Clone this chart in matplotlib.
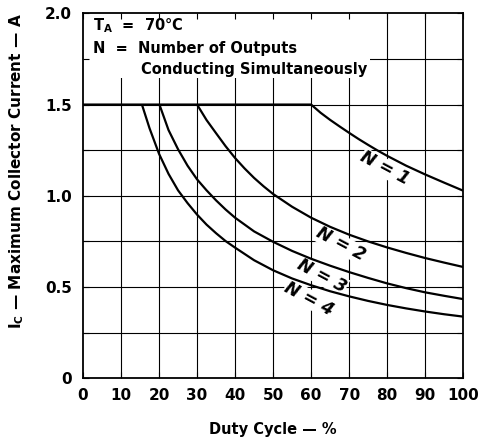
import matplotlib
matplotlib.use("Agg")
import matplotlib.pyplot as plt
from matplotlib.patches import Rectangle

plt.rcParams['font.family'] = ['DejaVu Sans']
plt.rcParams['font.weight'] = 'bold'
plt.rcParams['mathtext.fontset'] = 'custom'
plt.rcParams['mathtext.rm'] = 'DejaVu Sans:bold'
plt.rcParams['mathtext.it'] = 'DejaVu Sans:bold'
plt.rcParams['mathtext.bf'] = 'DejaVu Sans:bold'
plt.rcParams['mathtext.default'] = 'rm'

# Data (duty cycle %, max collector current A)
n1_x = [0, 60, 62.5, 65, 67.5, 70, 72.5, 75, 77.5, 80, 85, 90, 95, 100]
n1_y = [1.5, 1.5, 1.455, 1.416, 1.38, 1.345, 1.311, 1.279, 1.248, 1.219, 1.165, 1.117, 1.072, 1.028]
n2_x = [30, 32.5, 35, 37.5, 40, 42.5, 45, 47.5, 50, 55, 60, 65, 70, 75, 80, 85, 90, 95, 100]
n2_y = [1.5, 1.415, 1.343, 1.272, 1.207, 1.15, 1.098, 1.052, 1.01, 0.94, 0.88, 0.83, 0.787,
        0.75, 0.717, 0.687, 0.659, 0.634, 0.61]
n3_x = [20.1, 22.5, 25, 27.5, 30, 32.5, 35, 37.5, 40, 45, 50, 55, 60, 65, 70, 75, 80, 85, 90, 95, 100]
n3_y = [1.5, 1.36, 1.255, 1.165, 1.09, 1.03, 0.975, 0.925, 0.88, 0.805, 0.748, 0.698, 0.655,
        0.617, 0.582, 0.55, 0.52, 0.494, 0.471, 0.452, 0.434]
n4_x = [15.5, 17.5, 20, 22.5, 25, 27.5, 30, 32.5, 35, 37.5, 40, 45, 50, 55, 60, 65, 70, 75, 80,
        85, 90, 95, 100]
n4_y = [1.5, 1.37, 1.23, 1.12, 1.03, 0.96, 0.897, 0.842, 0.795, 0.752, 0.716, 0.647, 0.592,
        0.547, 0.51, 0.477, 0.449, 0.424, 0.402, 0.383, 0.366, 0.351, 0.338]

series = [(n1_x, n1_y, "N = 1"), (n2_x, n2_y, "N = 2"),
          (n3_x, n3_y, "N = 3"), (n4_x, n4_y, "N = 4")]

x_ticks = [0, 10, 20, 30, 40, 50, 60, 70, 80, 90, 100]
y_ticks = [0, 0.5, 1.0, 1.5, 2.0]
y_tick_labels = ["0", "0.5", "1.0", "1.5", "2.0"]
y_grid = [0.25, 0.5, 0.75, 1.0, 1.25, 1.5, 1.75]

label_pos = [(79.5, 1.15), (67.7, 0.735), (62.9, 0.56), (59.4, 0.436)]
label_rot = -28

fig = plt.figure(figsize=(4.84, 4.38), dpi=100)
ax = fig.add_axes([0.1715, 0.1363, 0.7855, 0.8333])
ax.set_xlim(0, 100)
ax.set_ylim(0, 2.0)

# grid
for xv in x_ticks[1:-1]:
    ax.axvline(xv, color='black', lw=0.8, zorder=1)
for yv in y_grid:
    ax.axhline(yv, color='black', lw=0.8, zorder=1)

# white area behind the annotation
ax.add_patch(Rectangle((0, 1.645), 75.5, 0.355, facecolor='white',
                       edgecolor='none', zorder=1.5))

for (xs, ys, lab), (lx, ly) in zip(series, label_pos):
    ax.plot(xs, ys, color='black', lw=1.6, zorder=3, solid_capstyle='butt',
            solid_joinstyle='round')
    ax.text(lx, ly, lab, rotation=label_rot, ha='center', va='center', fontsize=12.5,
            fontstyle='oblique', zorder=2.5, rotation_mode='anchor',
            bbox=dict(facecolor='white', edgecolor='none', pad=0.3))

ax.text(2.6, 1.908, r"T$_{A}$  =  70°C", fontsize=10.5, ha='left', va='baseline', zorder=5)
ax.text(2.6, 1.782, "N  =  Number of Outputs", fontsize=10.5, ha='left', va='baseline', zorder=5)
ax.text(15.3, 1.667, "Conducting Simultaneously", fontsize=10.5, ha='left', va='baseline', zorder=5)

ax.set_xticks(x_ticks)
ax.set_xticklabels([str(v) for v in x_ticks])
ax.set_yticks(y_ticks)
ax.set_yticklabels(y_tick_labels)
ax.set_yticks(y_grid, minor=True)
ax.tick_params(axis='both', which='both', direction='in', top=True, right=True,
               length=4, width=0.8, labelsize=11)
ax.tick_params(axis='x', pad=7)
ax.tick_params(axis='y', pad=8)
for sp in ax.spines.values():
    sp.set_linewidth(1.3)
    sp.set_zorder(6)

ax.set_xlabel("Duty Cycle — %", fontsize=10.5, fontweight='bold')
ax.xaxis.set_label_coords(0.5, -0.12)
ax.set_ylabel(r"I$_{C}$ — Maximum Collector Current — A", fontsize=11, fontweight='bold')
ax.yaxis.set_label_coords(-0.151, 0.568)

fig.savefig("out.png", dpi=100)
